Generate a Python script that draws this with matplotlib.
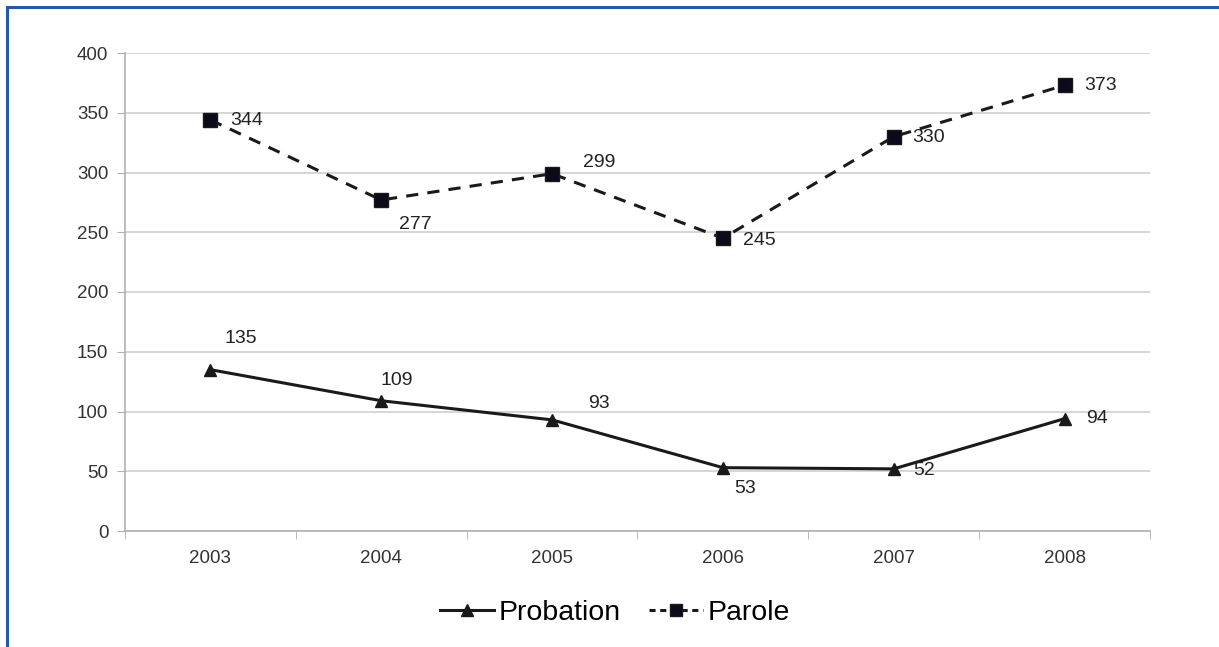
import matplotlib.pyplot as plt
from matplotlib.lines import Line2D

plt.rcParams["font.family"] = ["Liberation Sans", "DejaVu Sans"]

# Yearly counts
years = ["2003", "2004", "2005", "2006", "2007", "2008"]
probation = [135, 109, 93, 53, 52, 94]
parole = [344, 277, 299, 245, 330, 373]

# label offsets (pixels) for each data point
prob_offsets = [(30, 31), (16, 20), (47, 16), (22, -21), (30, -2), (32, 0)]
parole_offsets = [(36, -1), (34, -25), (47, 11), (36, -2), (35, -1), (36, 0)]

fig = plt.figure(figsize=(12.19, 6.47), dpi=100)
ax = fig.add_axes([125 / 1219, 1 - 531 / 647, (1150 - 125) / 1219, (531 - 53) / 647])

x = list(range(len(years)))
ax.plot(x, probation, color="#1a1a1a", lw=2.2, marker="^", ms=8, label="Probation")
ax.plot(x, parole, color="#1a1a1a", lw=2.2, ls=(0, (4, 3)), marker="s", ms=10,
        markerfacecolor="#0a0a1a", label="Parole")

for xi, v, off in zip(x, probation, prob_offsets):
    ax.annotate(str(v), (xi, v), xytext=off, textcoords="offset pixels",
                ha="center", va="center", fontsize=14, color="#222222")
for xi, v, off in zip(x, parole, parole_offsets):
    ax.annotate(str(v), (xi, v), xytext=off, textcoords="offset pixels",
                ha="center", va="center", fontsize=14, color="#222222")

ax.set_xlim(-0.5, len(years) - 0.5)
ax.set_ylim(0, 400)
ax.set_yticks(range(0, 401, 50))
ax.set_xticks(x)
ax.set_xticklabels(years)
ax.set_xticks([i - 0.5 for i in range(len(years) + 1)], minor=True)
ax.tick_params(axis="x", which="major", length=0, pad=14, labelsize=13.5, labelcolor="#333333")
ax.tick_params(axis="x", which="minor", length=6, color="#b0b0b0")
ax.tick_params(axis="y", length=6, color="#b0b0b0", pad=6, labelsize=13.5, labelcolor="#333333")

ax.grid(axis="y", color="#d0d0d0", lw=1.2)
ax.set_axisbelow(True)
for s in ["top", "right"]:
    ax.spines[s].set_visible(False)
for s in ["left", "bottom"]:
    ax.spines[s].set_color("#b0b0b0")
    ax.spines[s].set_linewidth(1.2)

handles = [
    Line2D([], [], color="#1a1a1a", lw=2.2, marker="^", ms=8),
    Line2D([], [], color="#1a1a1a", lw=2.2, ls=(0, (2, 1.5)), marker="s", ms=9,
           markerfacecolor="#0a0a1a"),
]
fig.legend(handles, ["Probation", "Parole"], loc="center", bbox_to_anchor=(615 / 1219, 1 - 613 / 647),
           ncol=2, frameon=False, fontsize=20.5, handlelength=1.9, handletextpad=0.15,
           columnspacing=1.0)

# blue frame around the figure
fig.add_artist(Line2D([7 / 1219, 7 / 1219], [0, 1 - 7 / 647], color="#1f5ba8", lw=2.2))
fig.add_artist(Line2D([7 / 1219, 1], [1 - 7 / 647, 1 - 7 / 647], color="#1f5ba8", lw=2.2))

fig.savefig("out.png", dpi=100)
